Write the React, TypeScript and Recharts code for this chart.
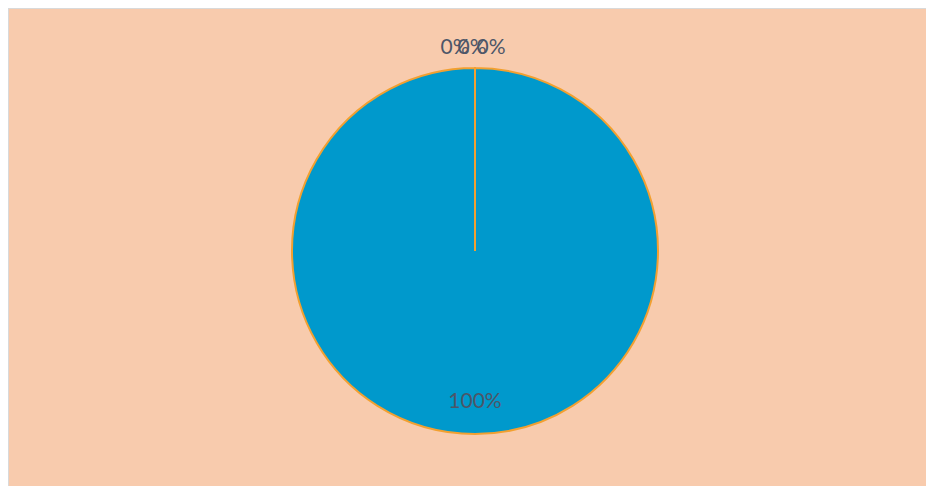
import { PieChart, Pie, Cell } from 'recharts'

const categories = ['Series A', 'Series B', 'Series C', 'Series D']
const values = [100, 0, 0, 0]
const labelShift = [0, -20, -3, 16]

const sliceColors = ['#0099CC', '#0099CC', '#0099CC', '#0099CC']

const data = categories.map((name, i) => ({ name, value: values[i] }))

const RAD = Math.PI / 180

function renderLabel(props: any) {
  const { cx, cy, midAngle, outerRadius, percent, index } = props
  const big = percent > 0
  const r = big ? outerRadius * 0.81 : outerRadius + 23
  const x = cx + r * Math.cos(-midAngle * RAD) + labelShift[index]
  const y = cy + r * Math.sin(-midAngle * RAD)
  return (
    <text
      x={x}
      y={y}
      textAnchor="middle"
      dominantBaseline="central"
      fill="#4d5668"
      fontSize={21}
      fontFamily="Lato, 'Open Sans', sans-serif"
    >
      {`${Math.round(percent * 100)}%`}
    </text>
  )
}

export default function App() {
  return (
    <div
      style={{
        width: 926,
        height: 478,
        boxSizing: 'border-box',
        background: '#F8CBAD',
        borderTop: '1px solid #d9d9d9',
        borderLeft: '1px solid #d9d9d9',
      }}
    >
      <PieChart width={925} height={477} margin={{ top: 0, right: 0, bottom: 0, left: 0 }}>
        <Pie
          data={data}
          dataKey="value"
          nameKey="name"
          cx={466}
          cy={242}
          outerRadius={183}
          startAngle={90}
          endAngle={-270}
          stroke="#F2A030"
          strokeWidth={2}
          label={renderLabel}
          labelLine={false}
          isAnimationActive={false}
        >
          {data.map((d, i) => (
            <Cell key={d.name} fill={sliceColors[i]} />
          ))}
        </Pie>
      </PieChart>
    </div>
  )
}
